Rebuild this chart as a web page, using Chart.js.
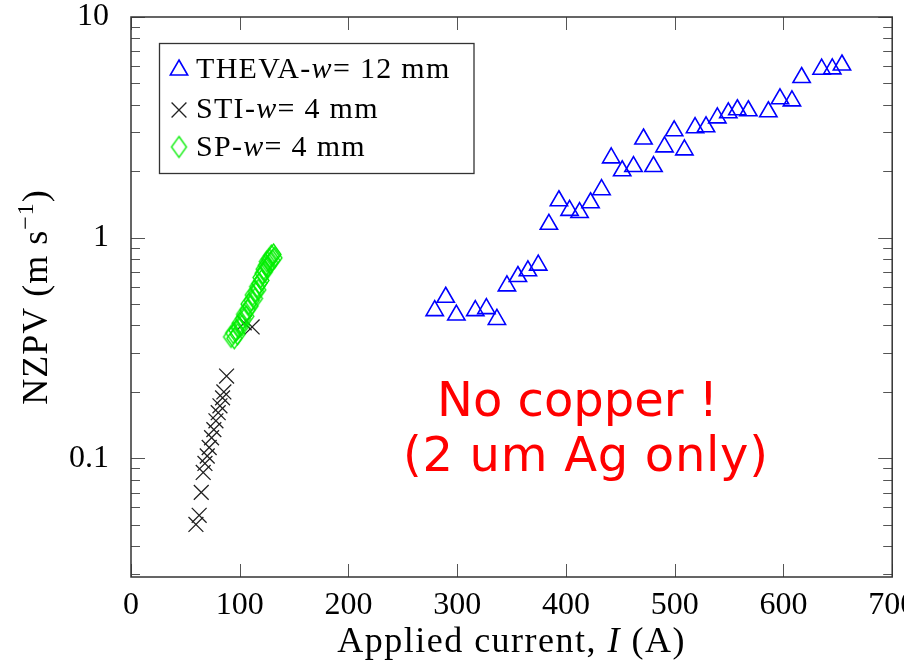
<!DOCTYPE html>
<html><head><meta charset="utf-8">
<script src="https://cdn.jsdelivr.net/npm/chart.js@4.4.1/dist/chart.umd.min.js"></script>
<style>html,body{margin:0;padding:0;background:#fff;}#wrap{width:904px;height:670px;}
.fl{position:absolute;left:-9999px;top:0;}</style>
</head><body>
<span class="fl" style="font-family:'Liberation Serif'">x</span><span class="fl" style="font-family:'Liberation Serif';font-style:italic">x</span><span class="fl" style="font-family:'DejaVu Sans'">x</span>
<div id="wrap"><canvas id="c" width="904" height="670"></canvas></div>
<script>
// ---- data ----
const thevaCurrent = [279.3,289.4,299.2,316.6,326.8,336.5,345.7,355.8,365.0,374.5,384.3,393.5,403.3,412.5,422.6,432.7,441.6,451.7,462.1,471.3,480.5,490.6,499.5,508.9,518.7,528.8,539.2,549.3,557.6,567.7,586.1,596.8,607.8,616.7,635.1,644.9,653.8];
const thevaNZPV    = [0.467,0.537,0.446,0.467,0.477,0.426,0.605,0.667,0.708,0.751,1.15,1.47,1.33,1.30,1.44,1.65,2.30,2.01,2.10,2.80,2.10,2.58,3.05,2.50,3.15,3.18,3.49,3.68,3.80,3.76,3.72,4.26,4.17,5.32,5.80,5.82,6.06];
const stiCurrent = [59.7,62.7,64.6,66.4,68.0,70.1,71.9,74.1,76.2,78.1,80.2,81.8,84.2,85.4,87.9,104.1,111.4];
const stiNZPV    = [0.0502,0.0552,0.0701,0.0863,0.0948,0.1025,0.112,0.124,0.135,0.148,0.161,0.173,0.188,0.200,0.236,0.411,0.394];
const spCurrent = [92,94,95,97,98,99,100,102,103,104,106,107,108,110,111,112,114,115,116,117,118,119,120,121,122,123,124,125,126,127,128,129,130,131,132];
const spNZPV    = [0.355,0.37,0.35,0.38,0.365,0.39,0.41,0.40,0.43,0.45,0.44,0.47,0.50,0.49,0.52,0.55,0.53,0.57,0.60,0.58,0.62,0.66,0.64,0.69,0.72,0.70,0.75,0.78,0.74,0.80,0.77,0.83,0.79,0.84,0.81];
const seriesLabels = ['THEVA-w= 12 mm','STI-w= 4 mm','SP-w= 4 mm'];
const xTickValues = [0,100,200,300,400,500,600,700];
const yTickValues = [0.1,1,10];
const yTickLabels = ['0.1','1','10'];
const xTitle = ['Applied current, ','I',' (A)'];
const yTitle = ['NZPV (m s','\u22121',')'];
const noteLines = ['No copper !','(2 um Ag only)'];

const pts = (xs, ys) => xs.map((v, i) => ({x: v, y: ys[i]}));

function makeDiamond(w, h, color, lw) {
  const c = document.createElement('canvas');
  c.width = w + 4; c.height = h + 4;
  const g = c.getContext('2d');
  g.strokeStyle = color; g.lineWidth = lw;
  g.beginPath();
  g.moveTo(c.width / 2, 2); g.lineTo(c.width - 2, c.height / 2);
  g.lineTo(c.width / 2, c.height - 2); g.lineTo(2, c.height / 2);
  g.closePath(); g.stroke();
  return c;
}
const diamondImg = makeDiamond(15, 21, '#00ee00', 1.3);

const SERIF = "'Liberation Serif', serif";

function drawRuns(ctx, runs, x, y) {
  let cx = x;
  runs.forEach(r => {
    ctx.font = r.font;
    ctx.fillText(r.t, cx, y + (r.dy || 0));
    cx += ctx.measureText(r.t).width;
  });
  return cx;
}
function runsWidth(ctx, runs) {
  let w = 0;
  runs.forEach(r => { ctx.font = r.font; w += ctx.measureText(r.t).width; });
  return w;
}
function labelRuns(label, size) {
  const i = label.indexOf('w=');
  return [
    {t: label.slice(0, i), font: size + 'px ' + SERIF},
    {t: 'w', font: 'italic ' + size + 'px ' + SERIF},
    {t: label.slice(i + 1), font: size + 'px ' + SERIF}
  ];
}

const decor = {
  id: 'decor',
  afterDraw(chart) {
    const {ctx, chartArea: a} = chart;
    const x = chart.scales.x, y = chart.scales.y;
    ctx.save();
    ctx.strokeStyle = '#555'; ctx.lineWidth = 1;
    ctx.beginPath();
    xTickValues.forEach(v => {
      const px = Math.round(x.getPixelForValue(v)) + 0.5;
      ctx.moveTo(px, a.bottom); ctx.lineTo(px, a.bottom - 13);
      ctx.moveTo(px, a.top); ctx.lineTo(px, a.top + 13);
    });
    for (let e = -2; e <= 1; e++) {
      for (let d = 1; d <= 9; d++) {
        const v = d * Math.pow(10, e);
        if (v < y.min || v > y.max) continue;
        const len = d === 1 ? 14 : 9;
        const py = Math.round(y.getPixelForValue(v)) + 0.5;
        ctx.moveTo(a.left, py); ctx.lineTo(a.left + len, py);
        ctx.moveTo(a.right, py); ctx.lineTo(a.right - len, py);
      }
    }
    ctx.stroke();
    ctx.strokeStyle = '#333'; ctx.lineWidth = 1.5;
    ctx.strokeRect(a.left, a.top, a.right - a.left, a.bottom - a.top);

    ctx.fillStyle = '#000';
    ctx.textBaseline = 'alphabetic';
    ctx.letterSpacing = '1.5px';
    const tf = 36;
    const xr = [
      {t: xTitle[0], font: tf + 'px ' + SERIF},
      {t: xTitle[1], font: 'italic ' + tf + 'px ' + SERIF},
      {t: xTitle[2], font: tf + 'px ' + SERIF}
    ];
    const xw = runsWidth(ctx, xr);
    drawRuns(ctx, xr, (a.left + a.right) / 2 - xw / 2, 652);

    ctx.letterSpacing = '1px';
    const yr = [
      {t: yTitle[0], font: tf + 'px ' + SERIF},
      {t: yTitle[1], font: Math.round(tf * 0.68) + 'px ' + SERIF, dy: -14},
      {t: yTitle[2], font: tf + 'px ' + SERIF}
    ];
    const yw = runsWidth(ctx, yr);
    ctx.save();
    ctx.translate(47, (a.top + a.bottom) / 2);
    ctx.rotate(-Math.PI / 2);
    drawRuns(ctx, yr, -yw / 2, 0);
    ctx.restore();

    ctx.letterSpacing = '1.3px';
    ctx.fillStyle = '#fff';
    ctx.fillRect(159.5, 43.5, 314.5, 130);
    ctx.strokeStyle = '#333'; ctx.lineWidth = 1.3;
    ctx.strokeRect(159.5, 43.5, 314.5, 130);
    const rowsY = [70, 110, 147];
    const baseY = [78, 118, 156];
    chart.data.datasets.forEach((ds, i) => {
      const style = {pointStyle: ds.pointStyle, radius: ds.pointRadius, borderWidth: ds.borderWidth, rotation: 0};
      ctx.strokeStyle = ds.borderColor; ctx.fillStyle = 'rgba(0,0,0,0)';
      ctx.lineWidth = ds.borderWidth;
      Chart.helpers.drawPoint(ctx, style, 179, rowsY[i]);
      ctx.fillStyle = '#000';
      drawRuns(ctx, labelRuns(seriesLabels[i], 30), 196, baseY[i]);
    });

    ctx.fillStyle = '#ff0000';
    ctx.font = "48px 'DejaVu Sans', sans-serif";
    ctx.letterSpacing = '0px';
    ctx.fillText(noteLines[0], 437, 416);
    ctx.letterSpacing = '0.7px';
    ctx.fillText(noteLines[1], 403, 471);
    ctx.restore();
  }
};

function build() {
  new Chart(document.getElementById('c'), {
    type: 'scatter',
    data: {
      datasets: [
        {label: seriesLabels[0], data: pts(thevaCurrent, thevaNZPV), pointStyle: 'triangle',
         pointRadius: 10, borderColor: '#0000ff', backgroundColor: 'rgba(0,0,0,0)', borderWidth: 1.6, order: 3},
        {label: seriesLabels[1], data: pts(stiCurrent, stiNZPV), pointStyle: 'crossRot',
         pointRadius: 10.5, borderColor: '#222222', backgroundColor: 'rgba(0,0,0,0)', borderWidth: 1.3, order: 2},
        {label: seriesLabels[2], data: pts(spCurrent, spNZPV), pointStyle: diamondImg,
         pointRadius: 8, borderColor: '#00ee00', backgroundColor: 'rgba(0,0,0,0)', borderWidth: 1.3, order: 1}
      ]
    },
    options: {
      responsive: false,
      animation: false,
      devicePixelRatio: 1,
      layout: {padding: {top: 17, right: 10, bottom: 0, left: 0}},
      plugins: {legend: {display: false}, tooltip: {enabled: false}},
      scales: {
        x: {
          type: 'linear', position: 'bottom', min: 0, max: 700,
          grid: {display: false}, border: {display: false},
          afterBuildTicks: s => { s.ticks = xTickValues.map(v => ({value: v})); },
          afterFit: s => { s.height = 93; s.paddingLeft = 0; s.paddingRight = 0; },
          ticks: {autoSkip: false, maxRotation: 0, padding: 1, color: '#000',
                  font: {family: SERIF, size: 32}}
        },
        y: {
          type: 'logarithmic', position: 'left', min: 0.029, max: 10,
          grid: {display: false}, border: {display: false},
          afterBuildTicks: s => { s.ticks = yTickValues.map(v => ({value: v, major: true})); },
          afterFit: s => { s.width = 131; s.paddingTop = 0; s.paddingBottom = 0; },
          ticks: {autoSkip: false, padding: 14, color: '#000',
                  font: {family: SERIF, size: 32},
                  callback: (v, i) => yTickLabels[i]}
        }
      }
    },
    plugins: [decor]
  });
}
Promise.all([
  document.fonts.load("32px 'Liberation Serif'"),
  document.fonts.load("italic 32px 'Liberation Serif'"),
  document.fonts.load("48px 'DejaVu Sans'")
]).then(build, build);
</script></body></html>
